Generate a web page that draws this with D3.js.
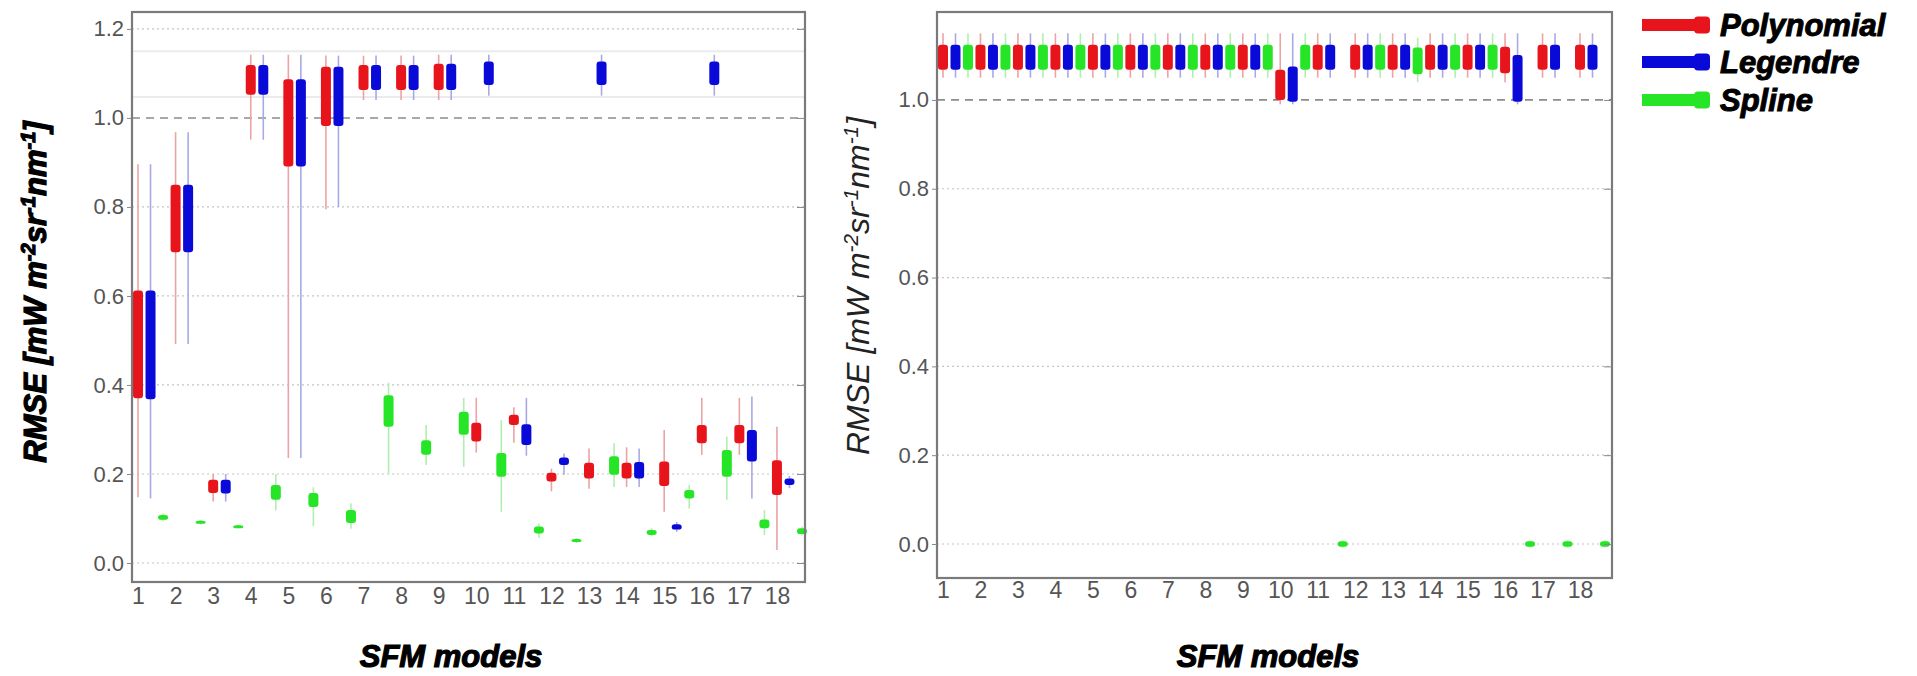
<!DOCTYPE html>
<html>
<head>
<meta charset="utf-8">
<script src="https://cdn.jsdelivr.net/npm/d3@7"></script>
<style>
  html, body { margin: 0; padding: 0; background: #ffffff; }
  svg { display: block; }
</style>
</head>
<body>
<svg id="chart" width="1917" height="676"></svg>
<script>
// ---------------- DATA ----------------
const models = ["1","2","3","4","5","6","7","8","9","10","11","12","13","14","15","16","17","18"];
const methods = ["Polynomial", "Legendre", "Spline"];
const yTicksLeft = [0.0, 0.2, 0.4, 0.6, 0.8, 1.0, 1.2];
const yTicksRight = [0.0, 0.2, 0.4, 0.6, 0.8, 1.0];
const referenceLevel = 1.0;
const faintLevelsLeft = [1.15, 1.047];

// each entry: [lower whisker, Q1, Q3, upper whisker]
const leftPolynomial = [
  [0.148, 0.370, 0.612, 0.896], [0.492, 0.698, 0.850, 0.968], [0.138, 0.157, 0.187, 0.200],
  [0.951, 1.052, 1.119, 1.142], [0.236, 0.891, 1.087, 1.142], [0.795, 0.982, 1.115, 1.140],
  [1.040, 1.063, 1.119, 1.140], [1.040, 1.063, 1.119, 1.140], [1.040, 1.063, 1.122, 1.142],
  [0.248, 0.273, 0.315, 0.371], [0.270, 0.310, 0.333, 0.350], [0.161, 0.183, 0.203, 0.212],
  [0.167, 0.190, 0.225, 0.257], [0.171, 0.190, 0.225, 0.260], [0.115, 0.173, 0.228, 0.299],
  [0.243, 0.269, 0.310, 0.371], [0.243, 0.269, 0.310, 0.371], [0.029, 0.153, 0.231, 0.306]
];
const leftLegendre = [
  [0.145, 0.368, 0.612, 0.896], [0.492, 0.698, 0.850, 0.968], [0.138, 0.156, 0.187, 0.200],
  [0.951, 1.052, 1.119, 1.142], [0.236, 0.891, 1.087, 1.142], [0.800, 0.982, 1.115, 1.140],
  [1.040, 1.063, 1.119, 1.140], [1.040, 1.063, 1.119, 1.140], [1.040, 1.063, 1.122, 1.142],
  [1.050, 1.074, 1.127, 1.142], [0.241, 0.265, 0.312, 0.371], [0.198, 0.220, 0.237, 0.246],
  [1.050, 1.074, 1.127, 1.142], [0.171, 0.190, 0.227, 0.257], [0.070, 0.075, 0.087, 0.092],
  [1.050, 1.074, 1.127, 1.142], [0.145, 0.228, 0.299, 0.374], [0.168, 0.175, 0.190, 0.196]
];
const leftSpline = [
  [0.094, 0.097, 0.108, 0.112], [0.086, 0.088, 0.095, 0.097], [0.081, 0.082, 0.085, 0.086],
  [0.118, 0.142, 0.175, 0.200], [0.083, 0.126, 0.157, 0.170], [0.077, 0.090, 0.119, 0.134],
  [0.200, 0.306, 0.377, 0.405], [0.220, 0.243, 0.276, 0.310], [0.216, 0.288, 0.340, 0.371],
  [0.115, 0.194, 0.247, 0.321], [0.056, 0.066, 0.082, 0.089], [0.045, 0.047, 0.054, 0.056],
  [0.171, 0.198, 0.240, 0.269], [0.060, 0.063, 0.074, 0.078], [0.122, 0.145, 0.164, 0.175],
  [0.142, 0.194, 0.254, 0.284], [0.063, 0.078, 0.098, 0.119], [0.062, 0.065, 0.078, 0.082]
];

const rightPolynomial = [
  [1.050, 1.068, 1.124, 1.150], [1.050, 1.068, 1.124, 1.150], [1.050, 1.068, 1.124, 1.150],
  [1.050, 1.068, 1.124, 1.150], [1.050, 1.068, 1.124, 1.150], [1.050, 1.068, 1.124, 1.150],
  [1.050, 1.068, 1.124, 1.150], [1.050, 1.068, 1.124, 1.150], [1.050, 1.068, 1.124, 1.150],
  [0.990, 1.000, 1.068, 1.150], [1.050, 1.068, 1.124, 1.150], [1.050, 1.068, 1.124, 1.150],
  [1.050, 1.068, 1.124, 1.150], [1.050, 1.068, 1.124, 1.150], [1.050, 1.068, 1.124, 1.150],
  [1.040, 1.060, 1.120, 1.150], [1.050, 1.068, 1.124, 1.150], [1.050, 1.068, 1.124, 1.150]
];
const rightLegendre = [
  [1.050, 1.068, 1.124, 1.150], [1.050, 1.068, 1.124, 1.150], [1.050, 1.068, 1.124, 1.150],
  [1.050, 1.068, 1.124, 1.150], [1.050, 1.068, 1.124, 1.150], [1.050, 1.068, 1.124, 1.150],
  [1.050, 1.068, 1.124, 1.150], [1.050, 1.068, 1.124, 1.150], [1.050, 1.068, 1.124, 1.150],
  [0.990, 0.996, 1.075, 1.150], [1.050, 1.068, 1.124, 1.150], [1.050, 1.068, 1.124, 1.150],
  [1.050, 1.068, 1.124, 1.150], [1.050, 1.068, 1.124, 1.150], [1.050, 1.068, 1.124, 1.150],
  [0.990, 0.996, 1.101, 1.150], [1.050, 1.068, 1.124, 1.150], [1.050, 1.068, 1.124, 1.150]
];
const rightSpline = [
  [1.050, 1.068, 1.124, 1.150], [1.050, 1.068, 1.124, 1.150], [1.050, 1.068, 1.124, 1.150],
  [1.050, 1.068, 1.124, 1.150], [1.050, 1.068, 1.124, 1.150], [1.050, 1.068, 1.124, 1.150],
  [1.050, 1.068, 1.124, 1.150], [1.050, 1.068, 1.124, 1.150], [1.050, 1.068, 1.124, 1.150],
  [1.050, 1.068, 1.124, 1.150], [-0.008, -0.006, 0.006, 0.008], [1.050, 1.068, 1.124, 1.150],
  [1.040, 1.058, 1.118, 1.140], [1.050, 1.068, 1.124, 1.150], [1.050, 1.068, 1.124, 1.150],
  [-0.008, -0.006, 0.006, 0.008], [-0.008, -0.006, 0.006, 0.008], [-0.008, -0.006, 0.006, 0.008]
];

const boxColors = ["#e8141c", "#0a0ad8", "#26e426"];
const whiskerColors = ["#eba3a5", "#a9a9e6", "#b0efb0"];

// ---------------- DRAW ----------------
const svg = d3.select("#chart");
svg.append("rect").attr("width", 1917).attr("height", 676).attr("fill", "#ffffff");

function drawPanel(cfg) {
  const g = svg.append("g");
  const y = d3.scaleLinear().domain(cfg.ydom).range([cfg.frame.y1, cfg.frame.y0]);
  const x = d3.scaleLinear().domain([0, models.length * 3 - 1]).range([cfg.slot0, cfg.slotN]);

  // grid lines
  g.append("g").selectAll("line").data(cfg.yticks.filter(v => v !== referenceLevel)).join("line")
    .attr("x1", cfg.frame.x0).attr("x2", cfg.frame.x1)
    .attr("y1", d => y(d)).attr("y2", d => y(d))
    .attr("stroke", "#c4c4c4").attr("stroke-width", 1.2).attr("stroke-dasharray", "2,3");
  if (cfg.faint) {
    g.append("g").selectAll("line").data(cfg.faint).join("line")
      .attr("x1", cfg.frame.x0).attr("x2", cfg.frame.x1)
      .attr("y1", d => y(d)).attr("y2", d => y(d))
      .attr("stroke", "#ebebeb").attr("stroke-width", 2);
  }
  g.append("line")
    .attr("x1", cfg.frame.x0).attr("x2", cfg.frame.x1)
    .attr("y1", y(referenceLevel)).attr("y2", y(referenceLevel))
    .attr("stroke", "#8c8c8c").attr("stroke-width", 1.6).attr("stroke-dasharray", "8,6");

  // boxes
  cfg.data.forEach((series, s) => {
    const items = series.map((d, i) => ({ d, slot: 3 * i + s })).filter(e => e.d);
    const sg = g.append("g");
    sg.selectAll("line.wh").data(items).join("line").attr("class", "wh")
      .attr("x1", e => x(e.slot)).attr("x2", e => x(e.slot))
      .attr("y1", e => y(e.d[3])).attr("y2", e => y(e.d[0]))
      .attr("stroke", whiskerColors[s]).attr("stroke-width", 1.6);
    sg.selectAll("rect.bx").data(items).join("rect").attr("class", "bx")
      .attr("x", e => x(e.slot) - 5).attr("width", 10)
      .attr("y", e => y(e.d[2]))
      .attr("height", e => Math.max(3, y(e.d[1]) - y(e.d[2])))
      .attr("rx", 3).attr("ry", 3)
      .attr("fill", boxColors[s]);
  });

  // frame
  g.append("rect")
    .attr("x", cfg.frame.x0).attr("y", cfg.frame.y0)
    .attr("width", cfg.frame.x1 - cfg.frame.x0).attr("height", cfg.frame.y1 - cfg.frame.y0)
    .attr("fill", "none").attr("stroke", "#7a7a7a").attr("stroke-width", 2.2);

  // y axis (left, outward ticks)
  const ya = g.append("g").attr("transform", `translate(${cfg.frame.x0},0)`)
    .call(d3.axisLeft(y).tickValues(cfg.yticks).tickFormat(d3.format(".1f")).tickSize(5).tickPadding(3));
  ya.select(".domain").remove();
  ya.selectAll("line").attr("stroke", "#888");
  ya.selectAll("text").attr("fill", "#555").style("font-family", "'Liberation Sans', Arial, sans-serif").style("font-size", "22px");

  // right side inward ticks
  const yr = g.append("g").attr("transform", `translate(${cfg.frame.x1},0)`)
    .call(d3.axisLeft(y).tickValues(cfg.yticks).tickFormat("").tickSize(8));
  yr.select(".domain").remove();
  yr.selectAll("line").attr("stroke", "#888");

  // x axis
  const xa = g.append("g").attr("transform", `translate(0,${cfg.frame.y1})`)
    .call(d3.axisBottom(x).tickValues(models.map((m, i) => 3 * i)).tickFormat((d, i) => models[i]).tickSize(0).tickPadding(cfg.xpad));
  xa.select(".domain").remove();
  xa.selectAll("text").attr("fill", "#555").style("font-family", "'Liberation Sans', Arial, sans-serif").style("font-size", "23px");

  // axis titles
  const yt = g.append("text")
    .attr("transform", `translate(${cfg.yTitle.x},${cfg.yTitle.y}) rotate(-90)`)
    .attr("text-anchor", "middle")
    .style("font-family", "'Liberation Sans', Arial, sans-serif")
    .style("font-style", "italic")
    .style("font-weight", cfg.yTitle.bold ? "bold" : "normal")
    .style("font-size", cfg.yTitle.size + "px")
    .attr("fill", cfg.yTitle.bold ? "#000" : "#222");
  if (cfg.yTitle.bold) yt.attr("stroke", "#000").attr("stroke-width", 1.2);
  const parts = [["RMSE [mW m", false], ["-2", true], ["sr", false], ["-1", true], ["nm", false], ["-1", true], ["]", false]];
  parts.forEach(([t, sup]) => {
    yt.append("tspan").text(t)
      .attr("baseline-shift", sup ? "super" : null)
      .style("font-size", sup ? (cfg.yTitle.size * 0.65) + "px" : null);
  });

  g.append("text")
    .attr("x", cfg.xTitle.x).attr("y", cfg.xTitle.y)
    .attr("text-anchor", "middle")
    .style("font-family", "'Liberation Sans', Arial, sans-serif")
    .style("font-style", "italic").style("font-weight", "bold")
    .style("font-size", "31px")
    .attr("fill", "#000").attr("stroke", "#000").attr("stroke-width", 1.2)
    .text("SFM models");
}

drawPanel({
  frame: { x0: 132, x1: 805, y0: 12, y1: 582 },
  ydom: [-0.0427, 1.238], slot0: 138, slotN: 802,
  data: [leftPolynomial, leftLegendre, leftSpline],
  yticks: yTicksLeft, faint: faintLevelsLeft, xpad: 6,
  yTitle: { x: 46, y: 292, size: 31, bold: true },
  xTitle: { x: 451, y: 667 }
});
drawPanel({
  frame: { x0: 937, x1: 1612, y0: 12, y1: 578 },
  ydom: [-0.0766, 1.198], slot0: 943, slotN: 1605,
  data: [rightPolynomial, rightLegendre, rightSpline],
  yticks: yTicksRight, faint: null, xpad: 4,
  yTitle: { x: 869, y: 286, size: 32, bold: false },
  xTitle: { x: 1268, y: 667 }
});

// legend
const legend = svg.append("g");
const legY = [25, 62, 100];
methods.forEach((name, i) => {
  const lg = legend.append("g").attr("transform", `translate(0,${legY[i]})`);
  lg.append("rect").attr("x", 1642).attr("y", -6).attr("width", 60).attr("height", 12).attr("fill", boxColors[i]);
  lg.append("rect").attr("x", 1694).attr("y", -8.5).attr("width", 16).attr("height", 17).attr("rx", 4).attr("fill", boxColors[i]);
  lg.append("text").attr("x", 1720).attr("y", 11)
    .style("font-family", "'Liberation Sans', Arial, sans-serif")
    .style("font-style", "italic").style("font-weight", "bold").style("font-size", "31px")
    .attr("fill", "#000").attr("stroke", "#000").attr("stroke-width", 1)
    .text(name);
});
</script>
</body>
</html>
